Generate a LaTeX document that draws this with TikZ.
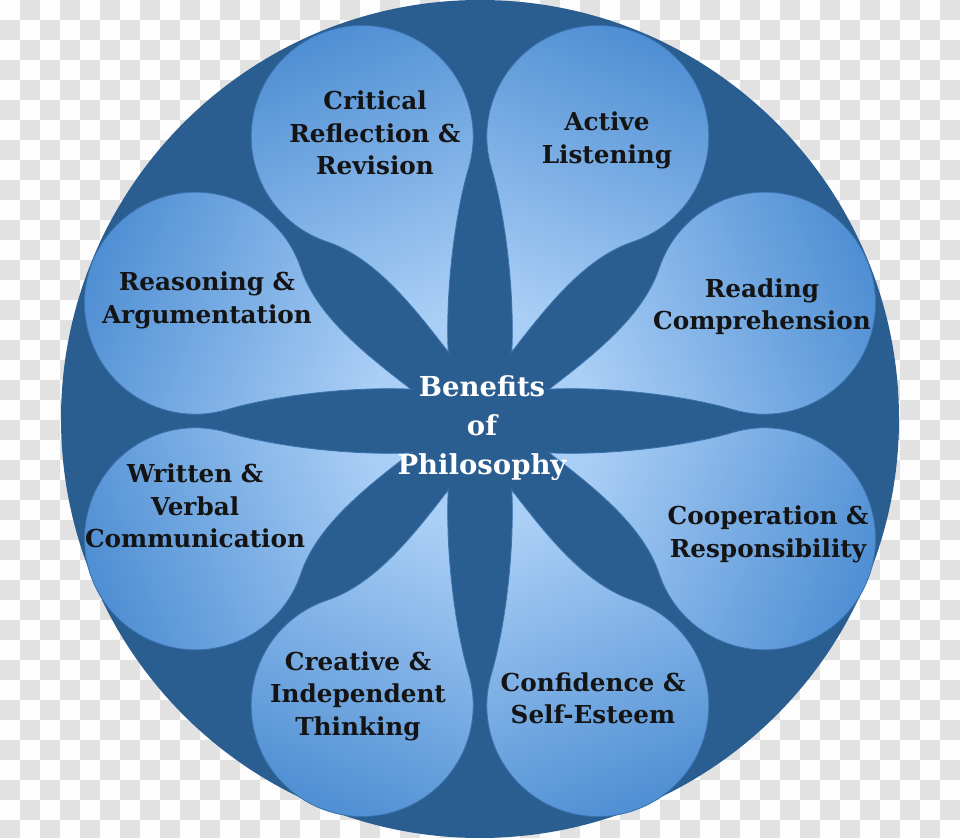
\documentclass[tikz,border=0pt]{standalone}
\usepackage{fontspec}
\setmainfont{DejaVu Serif}
\definecolor{ring}{HTML}{2A5E91}
\definecolor{petdark}{HTML}{4E8ED3}
\definecolor{petlight}{HTML}{AACFF6}
\definecolor{petedge}{HTML}{3A72AE}
\definecolor{chk}{HTML}{E2E2E2}
\definecolor{chkw}{HTML}{FDFDFD}
\newcommand\mypetal[2]{%
  \pgfmathsetmacro\shang{#1-90}%
  \begin{scope}[shift={(480,417)}, rotate=#1, yscale=#2]
    \shade[top color=petdark, bottom color=petlight, shading angle=\shang,
           draw=petedge, line width=0.8pt]
      (76,-3) .. controls (132.4,17.5) and (199.2,54.9) .. (238.1,86.3)
      arc[start angle=129, end angle=-139, radius=111]
      .. controls (191.4,-35.1) and (134,-18.5) .. cycle;
  \end{scope}}
\begin{document}
\begin{tikzpicture}[x=1pt,y=1pt]
\tikzset{
  lbl/.style={font=\fontsize{24.7}{32.5}\selectfont\bfseries, text=black!92, align=center, inner sep=0pt},
  ctr/.style={font=\fontsize{27.5}{39}\selectfont\bfseries, text=white, align=center, inner sep=0pt},
}
\useasboundingbox (0,0) rectangle (960,838);
\fill[chkw] (0,0) rectangle (960,838);
\foreach \j in {0,...,41}{
  \foreach \i in {0,2,...,46}{
    \pgfmathsetmacro\xx{20*\i+20*mod(\j+1,2)}
    \pgfmathsetmacro\yy{838-20*\j}
    \pgfmathsetmacro\yb{max(0,\yy-20)}
    \fill[chk] (\xx,\yy) rectangle (\xx+20,\yb);
  }
}
\fill[ring] (480,419) circle[radius=419];
% petals
\mypetal{67.5}{1}
\mypetal{22.5}{-1}
\mypetal{-22.5}{1}
\mypetal{-67.5}{-1}
\mypetal{-112.5}{1}
\mypetal{-157.5}{-1}
\mypetal{157.5}{1}
\mypetal{112.5}{-1}
% labels
\node[lbl] (crit) at (375,705) {Critical\\Reflection \&\\Revision};
\node[lbl] (act) at (607,697.5) {Active\\Listening};
\node[lbl] (read) at (762,531.5) {Reading\\Comprehension};
\node[lbl] (reas) at (207,537.5) {Reasoning \&\\Argumentation};
\node[lbl] (writ) at (195,332) {Written \&\\Verbal\\Communication};
\node[lbl] (coop) at (768,303.5) {Cooperation \&\\Responsibility};
\node[lbl] (crea) at (358,142) {Creative \&\\Independent\\Thinking};
\node[lbl] (conf) at (593,139.5) {Confidence \&\\Self-Esteem};
\node[ctr] (ben) at (482,410) {Benefits\\of\\Philosophy};
\end{tikzpicture}
\end{document}
